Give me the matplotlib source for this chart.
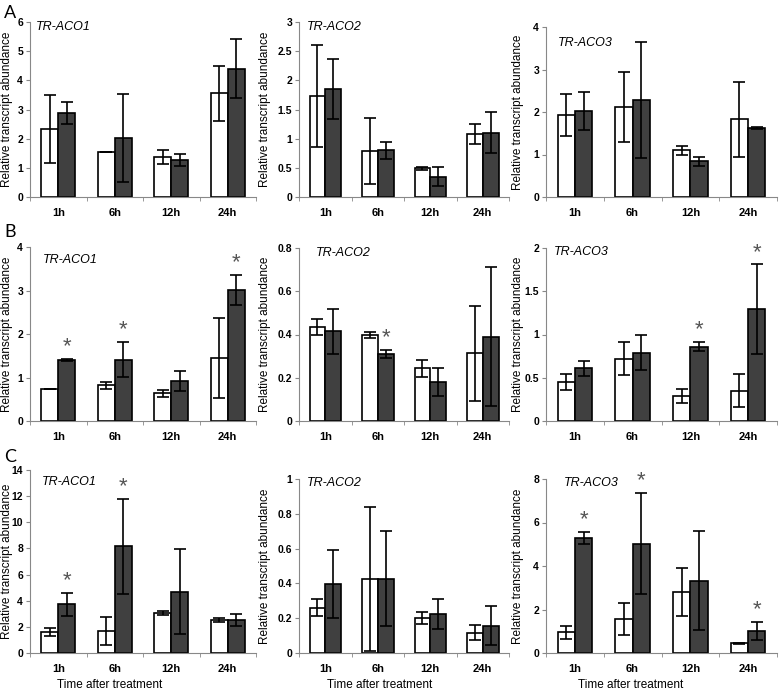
import numpy as np
import matplotlib.pyplot as plt
from matplotlib.ticker import FormatStrFormatter, MultipleLocator

plt.rcParams['font.family'] = ['Liberation Sans', 'DejaVu Sans']

times = ['1h', '6h', '12h', '24h']
genes = ['TR-ACO1', 'TR-ACO2', 'TR-ACO3']

# row A
a_ctrl = [[2.33, 1.53, 1.37, 3.55], [1.73, 0.79, 0.49, 1.08], [1.93, 2.12, 1.10, 1.83]]
a_ctrl_err = [[1.17, 0.0, 0.25, 0.94], [0.87, 0.57, 0.02, 0.17], [0.50, 0.82, 0.10, 0.88]]
a_trt = [[2.88, 2.02, 1.27, 4.40], [1.85, 0.80, 0.35, 1.10], [2.02, 2.28, 0.84, 1.62]]
a_trt_err = [[0.38, 1.50, 0.20, 1.02], [0.52, 0.15, 0.16, 0.35], [0.45, 1.37, 0.10, 0.02]]
a_star = [[0, 0, 0, 0], [0, 0, 0, 0], [0, 0, 0, 0]]

# row B
b_ctrl = [[0.73, 0.82, 0.64, 1.45], [0.435, 0.398, 0.243, 0.313], [0.45, 0.72, 0.29, 0.35]]
b_ctrl_err = [[0.0, 0.08, 0.08, 0.92], [0.035, 0.012, 0.038, 0.22], [0.09, 0.19, 0.085, 0.19]]
b_trt = [[1.40, 1.41, 0.93, 3.01], [0.415, 0.31, 0.18, 0.39], [0.61, 0.79, 0.86, 1.29]]
b_trt_err = [[0.03, 0.40, 0.23, 0.35], [0.105, 0.02, 0.066, 0.32], [0.085, 0.20, 0.055, 0.52]]
b_star = [[1, 1, 0, 1], [0, 1, 0, 0], [0, 0, 1, 1]]

# row C
c_ctrl = [[1.60, 1.70, 3.05, 2.52], [0.26, 0.425, 0.202, 0.117], [0.95, 1.55, 2.80, 0.45]]
c_ctrl_err = [[0.30, 1.07, 0.15, 0.14], [0.05, 0.415, 0.033, 0.042], [0.30, 0.73, 1.11, 0.02]]
c_trt = [[3.72, 8.15, 4.70, 2.55], [0.395, 0.428, 0.222, 0.158], [5.30, 5.03, 3.33, 1.00]]
c_trt_err = [[0.88, 3.63, 3.25, 0.45], [0.195, 0.272, 0.086, 0.113], [0.28, 2.31, 2.28, 0.42]]
c_star = [[1, 1, 0, 0], [0, 0, 0, 0], [1, 1, 0, 1]]

ymax = [[6, 3, 4], [4, 0.8, 2], [14, 1, 8]]
ystep = [[1, 0.5, 1], [1, 0.2, 0.5], [2, 0.2, 2]]

rows = [(a_ctrl, a_ctrl_err, a_trt, a_trt_err, a_star),
        (b_ctrl, b_ctrl_err, b_trt, b_trt_err, b_star),
        (c_ctrl, c_ctrl_err, c_trt, c_trt_err, c_star)]
letters = ['A', 'B', 'C']

W, H = 780, 695
fig = plt.figure(figsize=(W / 100, H / 100), dpi=100)

# layout in pixels
col_x = [(30, 256), (299, 509), (546, 777)]
row_bot = [197, 421, 653]
ax_top = [[22, 22, 27], [247, 248, 248], [470, 479, 479]]
title_off = [[(6, 5), (8, 5), (12, 16)], [(13, 13), (17, 5), (8, 4)], [(12, 12), (8, 4), (18, 4)]]
ylab_x = [7, 265, 518]
xlab_x = [110, 380, 631]
letter_y = [13, 232, 457]

x = np.arange(len(times))
bw = 0.3

for r, (ctrl, ctrl_err, trt, trt_err, star) in enumerate(rows):
    bot = row_bot[r]
    for c in range(3):
        left, right = col_x[c]
        top = ax_top[r][c]
        aw, ah = right - left, bot - top
        ax = fig.add_axes([left / W, 1 - bot / H, aw / W, ah / H])
        ekw = dict(ecolor='black', elinewidth=1.2, capsize=4, capthick=1.2)
        ax.bar(x - bw / 2, ctrl[c], bw, yerr=ctrl_err[c], color='white',
               edgecolor='black', linewidth=1.2, error_kw=ekw)
        ax.bar(x + bw / 2, trt[c], bw, yerr=trt_err[c], color='#404040',
               edgecolor='black', linewidth=1.2, error_kw=ekw)
        for i in range(len(times)):
            if star[c][i]:
                ax.text(x[i] + bw / 2, trt[c][i] + trt_err[c][i] + ymax[r][c] * 0.01, '*',
                        ha='center', va='bottom', fontsize=16, color='#555555')
        ax.set_xlim(-0.5, 3.5)
        ax.set_ylim(0, ymax[r][c])
        ax.yaxis.set_major_locator(MultipleLocator(ystep[r][c]))
        ax.yaxis.set_major_formatter(FormatStrFormatter('%g'))
        ax.set_xticks(x)
        ax.set_xticklabels(times, fontweight='bold', fontsize=8)
        ax.set_xticks(np.arange(-0.5, 4, 1), minor=True)
        ax.tick_params(axis='x', which='major', length=0, pad=8)
        ax.tick_params(axis='x', which='minor', length=3, color='#888888')
        ax.tick_params(axis='y', length=3, color='#888888', labelsize=7.5, pad=2)
        for lab in ax.get_yticklabels():
            lab.set_fontweight('bold')
        for s in ['top', 'right']:
            ax.spines[s].set_visible(False)
        for s in ['left', 'bottom']:
            ax.spines[s].set_color('#888888')
        ax.set_ylabel('Relative transcript abundance', fontsize=8.5)
        ax.yaxis.label.set_va('center')
        ax.yaxis.set_label_coords((ylab_x[c] - left) / aw, 0.5)
        dx, dy = title_off[r][c]
        ax.text(dx / aw, 1 - dy / ah, genes[c], transform=ax.transAxes, fontsize=9,
                style='italic', ha='left', va='center')
        if r == 2:
            ax.set_xlabel('Time after treatment', fontsize=8.5)
            ax.xaxis.label.set_va('center')
            ax.xaxis.set_label_coords((xlab_x[c] - left) / aw, -32 / ah)
    fig.text(4 / W, 1 - letter_y[r] / H, letters[r], fontsize=13, ha='left', va='center',
             family=['Lato', 'DejaVu Sans'])

fig.savefig('out.png', dpi=100)
